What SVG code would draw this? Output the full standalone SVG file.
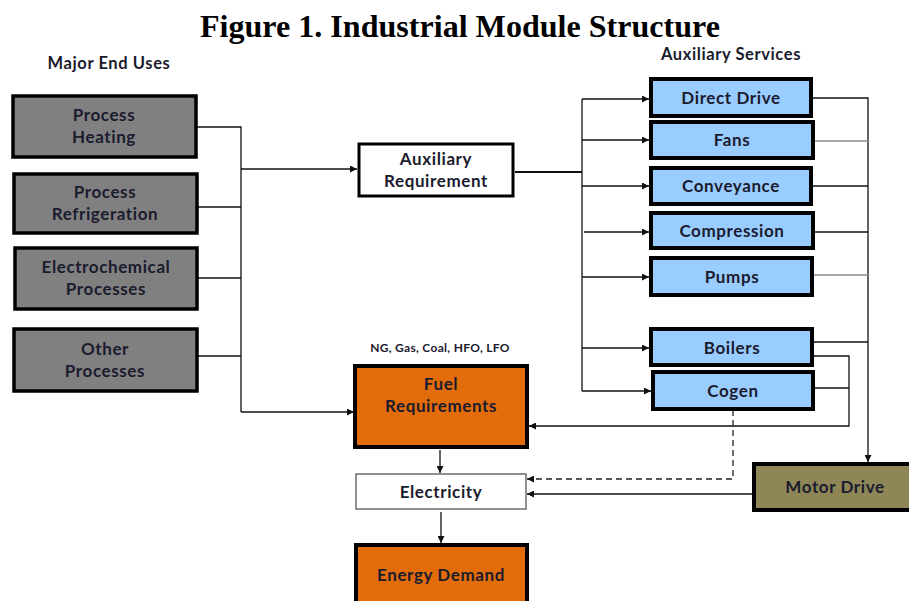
<svg xmlns="http://www.w3.org/2000/svg" width="909" height="601" viewBox="0 0 909 601">
<defs>
<marker id="ah" viewBox="0 0 10 10" refX="10" refY="5" markerWidth="7" markerHeight="7" markerUnits="userSpaceOnUse" orient="auto">
<path d="M0,0 L10,5 L0,10 z" fill="#111"/>
</marker>
<style>
.t{font-family:Lato,"Liberation Sans",sans-serif;font-weight:bold;font-size:17px;letter-spacing:0.6px;fill:#1b1b2e;text-anchor:middle}
.gray{fill:#808080;stroke:#000;stroke-width:3.5}
.blue{fill:#99ccff;stroke:#000;stroke-width:4}
.orange{fill:#e36c0a;stroke:#000;stroke-width:4}
.ln{fill:none;stroke:#111;stroke-width:1.3}
.dash{fill:none;stroke:#222;stroke-width:1.3;stroke-dasharray:6,4}
</style>
</defs>
<rect width="909" height="601" fill="#fff"/>
<text x="460" y="37" font-family="'Liberation Serif',serif" font-weight="bold" font-size="32" text-anchor="middle" textLength="520" lengthAdjust="spacingAndGlyphs" fill="#000">Figure 1. Industrial Module Structure</text>
<text x="109" y="69" class="t" style="font-size:16.5px">Major End Uses</text>
<text x="731" y="60" class="t" style="font-size:16.5px">Auxiliary Services</text>

<g id="connectors">
<path class="ln" d="M196,127 H241 V412"/>
<path class="ln" d="M197,207 H241"/>
<path class="ln" d="M197,278 H241"/>
<path class="ln" d="M197,356 H241"/>
<path class="ln" d="M241,169 H357" marker-end="url(#ah)"/>
<path class="ln" d="M241,412 H354" marker-end="url(#ah)"/>
<path class="ln" d="M515,172 H582" style="stroke-width:2"/>
<path class="ln" d="M582,99 V391"/>
<path class="ln" d="M582,99 H649" marker-end="url(#ah)"/>
<path class="ln" d="M582,140 H649" marker-end="url(#ah)"/>
<path class="ln" d="M582,186 H649" marker-end="url(#ah)"/>
<path class="ln" d="M584,232 H649" marker-end="url(#ah)"/>
<path class="ln" d="M582,277 H649" marker-end="url(#ah)"/>
<path class="ln" d="M582,348 H649" marker-end="url(#ah)"/>
<path class="ln" d="M582,391 H651" marker-end="url(#ah)"/>
<path class="ln" d="M812,98 H868 V462" marker-end="url(#ah)"/>
<path class="ln" d="M814,141 H868" style="stroke:#888"/>
<path class="ln" d="M812,186 H868"/>
<path class="ln" d="M814,232 H868"/>
<path class="ln" d="M813,275 H868" style="stroke:#888"/>
<path class="ln" d="M813,342 H868"/>
<path class="ln" d="M813,356 H849 V426 H529" marker-end="url(#ah)"/>
<path class="ln" d="M814,388 H849"/>
<path class="dash" d="M733,410 V479 H527" marker-end="url(#ah)"/>
<path class="ln" d="M753,494 H527" marker-end="url(#ah)"/>
<path class="ln" d="M440,450 V473" marker-end="url(#ah)"/>
<path class="ln" d="M441,512 V543" marker-end="url(#ah)"/>
</g>

<g id="process-heating"><rect class="gray" x="13" y="96" width="183" height="61"/><text class="t" x="104" y="121">Process</text><text class="t" x="104" y="143">Heating</text></g>
<g id="process-refrigeration"><rect class="gray" x="14" y="174" width="183" height="59"/><text class="t" x="105" y="198">Process</text><text class="t" x="105" y="220">Refrigeration</text></g>
<g id="electrochemical"><rect class="gray" x="15" y="248" width="182" height="61"/><text class="t" x="106" y="273">Electrochemical</text><text class="t" x="106" y="295">Processes</text></g>
<g id="other-processes"><rect class="gray" x="14" y="329" width="183" height="62"/><text class="t" x="105" y="355">Other</text><text class="t" x="105" y="377">Processes</text></g>

<g id="auxiliary-requirement"><rect x="359" y="144" width="154" height="52" fill="#fff" stroke="#000" stroke-width="3"/><text class="t" x="436" y="165">Auxiliary</text><text class="t" x="436" y="187">Requirement</text></g>

<g id="direct-drive"><rect class="blue" x="651" y="79" width="160" height="37"/><text class="t" x="731" y="104">Direct Drive</text></g>
<g id="fans"><rect class="blue" x="651" y="122" width="162" height="36"/><text class="t" x="732" y="146">Fans</text></g>
<g id="conveyance"><rect class="blue" x="651" y="168" width="160" height="36"/><text class="t" x="731" y="192">Conveyance</text></g>
<g id="compression"><rect class="blue" x="651" y="213" width="162" height="35"/><text class="t" x="732" y="237">Compression</text></g>
<g id="pumps"><rect class="blue" x="651" y="258" width="161" height="37"/><text class="t" x="732" y="283">Pumps</text></g>
<g id="boilers"><rect class="blue" x="651" y="329" width="161" height="36"/><text class="t" x="732" y="354">Boilers</text></g>
<g id="cogen"><rect class="blue" x="653" y="372" width="160" height="37"/><text class="t" x="733" y="397">Cogen</text></g>

<g id="fuel-requirements"><text class="t" x="440" y="352" style="font-size:12px;letter-spacing:0.3px">NG, Gas, Coal, HFO, LFO</text><rect class="orange" x="355" y="366" width="172" height="81"/><text class="t" x="441" y="390">Fuel</text><text class="t" x="441" y="412">Requirements</text></g>
<g id="electricity"><rect x="356" y="474" width="170" height="35" fill="#fff" stroke="#555" stroke-width="1.3"/><text class="t" x="441" y="498">Electricity</text></g>
<g id="motor-drive"><rect x="754" y="464" width="160" height="46" fill="#8e8656" stroke="#000" stroke-width="4"/><text class="t" x="835" y="493">Motor Drive</text></g>
<g id="energy-demand"><rect class="orange" x="356" y="545" width="171" height="62"/><text class="t" x="441" y="581">Energy Demand</text></g>
</svg>
